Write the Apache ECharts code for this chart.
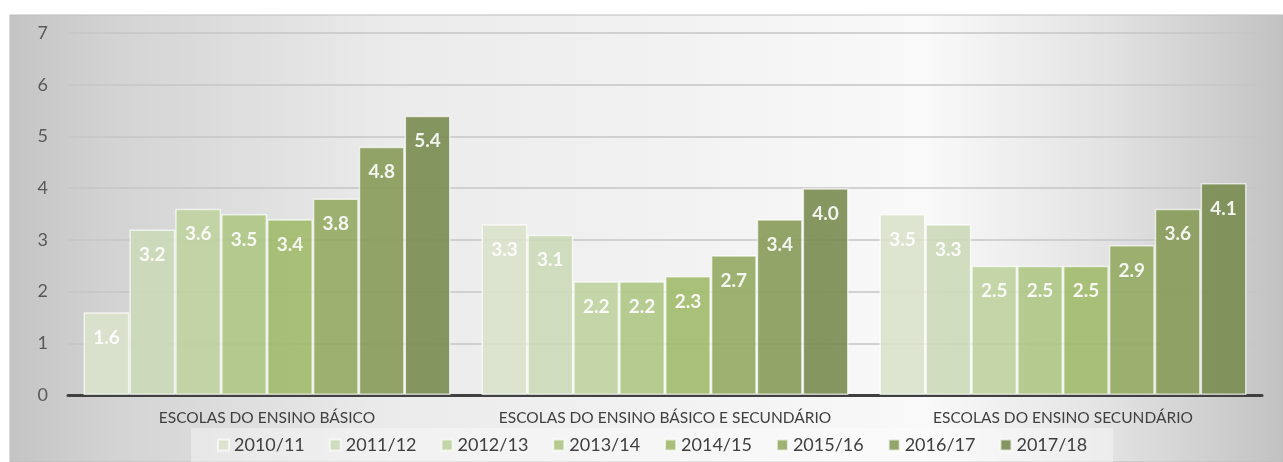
<!DOCTYPE html>
<html>
<head>
<meta charset="utf-8">
<script src="https://cdn.jsdelivr.net/npm/echarts@6/dist/echarts.min.js"></script>
<style>
  html, body { margin: 0; padding: 0; background: #ffffff; }
  #chart { width: 1283px; height: 462px; }
</style>
</head>
<body>
<div id="chart"></div>
<script>
// categories and school years
const categories = ['ESCOLAS DO ENSINO BÁSICO', 'ESCOLAS DO ENSINO BÁSICO E SECUNDÁRIO', 'ESCOLAS DO ENSINO SECUNDÁRIO'];
const years = ['2010/11', '2011/12', '2012/13', '2013/14', '2014/15', '2015/16', '2016/17', '2017/18'];
const yTicks = [0, 1, 2, 3, 4, 5, 6, 7];

// one row per school year: [básico, básico e secundário, secundário]
const v2010 = [1.6, 3.3, 3.5];
const v2011 = [3.2, 3.1, 3.3];
const v2012 = [3.6, 2.2, 2.5];
const v2013 = [3.5, 2.2, 2.5];
const v2014 = [3.4, 2.3, 2.5];
const v2015 = [3.8, 2.7, 2.9];
const v2016 = [4.8, 3.4, 3.6];
const v2017 = [5.4, 4.0, 4.1];
const seriesValues = [v2010, v2011, v2012, v2013, v2014, v2015, v2016, v2017];

const barColors = ['#d9e2cb', '#ccd9b8', '#bfd19f', '#afc685', '#a1ba6a', '#94ab63', '#889b5a', '#7a8c50'];

const fontFamily = 'Lato, "Open Sans", sans-serif';

const chart = echarts.init(document.getElementById('chart'), null, { renderer: 'canvas' });

const series = years.map(function (name, i) {
    return {
        name: name,
        type: 'bar',
        data: seriesValues[i],
        barGap: '0%',
        barCategoryGap: '7.8%',
        itemStyle: {
            color: barColors[i],
            opacity: 0.9,
            borderColor: 'rgba(255,255,255,0.75)',
            borderWidth: 1.5
        },
        label: {
            show: true,
            position: 'insideTop',
            distance: 16,
            color: '#ffffff',
            fontFamily: fontFamily,
            fontWeight: 'bold',
            fontSize: 19,
            formatter: function (p) { return p.value.toFixed(1); }
        },
        emphasis: { disabled: true }
    };
});

chart.setOption({
    animation: false,
    backgroundColor: '#ffffff',
    graphic: [
        {
            type: 'rect',
            z: -10,
            silent: true,
            shape: { x: 10, y: 15, width: 1273, height: 447 },
            style: {
                fill: new echarts.graphic.LinearGradient(0, 0, 1, 0, [
                    { offset: 0, color: '#c4c4c4' },
                    { offset: 0.08, color: '#d3d3d3' },
                    { offset: 0.3, color: '#ebebeb' },
                    { offset: 0.55, color: '#f3f3f3' },
                    { offset: 0.72, color: '#f9f9f9' },
                    { offset: 0.86, color: '#e3e3e3' },
                    { offset: 1, color: '#c2c2c2' }
                ]),
                stroke: '#bdbdbd',
                lineWidth: 1
            }
        }
    ],
    grid: { left: 68, right: 21, top: 33, bottom: 67 },
    legend: {
        data: years,
        left: 191,
        top: 428,
        padding: [8, 26, 10, 26],
        itemWidth: 11,
        itemHeight: 11,
        itemGap: 24,
        icon: 'rect',
        backgroundColor: 'rgba(255,255,255,0.35)',
        textStyle: { color: '#404040', fontSize: 18, fontFamily: fontFamily }
    },
    xAxis: {
        type: 'category',
        data: categories,
        axisLine: { show: true, lineStyle: { color: '#404040', width: 3 } },
        axisTick: { show: false },
        axisLabel: { color: '#404040', fontSize: 15.5, fontFamily: fontFamily, margin: 15, interval: 0, hideOverlap: false }
    },
    yAxis: {
        type: 'value',
        min: yTicks[0],
        max: yTicks[yTicks.length - 1],
        interval: 1,
        axisLine: { show: false },
        axisTick: { show: false },
        axisLabel: { color: '#595959', fontSize: 18, fontFamily: fontFamily, margin: 20 },
        splitLine: { lineStyle: { color: '#c6c6c6', width: 1.5 } }
    },
    series: series
});
</script>
</body>
</html>
